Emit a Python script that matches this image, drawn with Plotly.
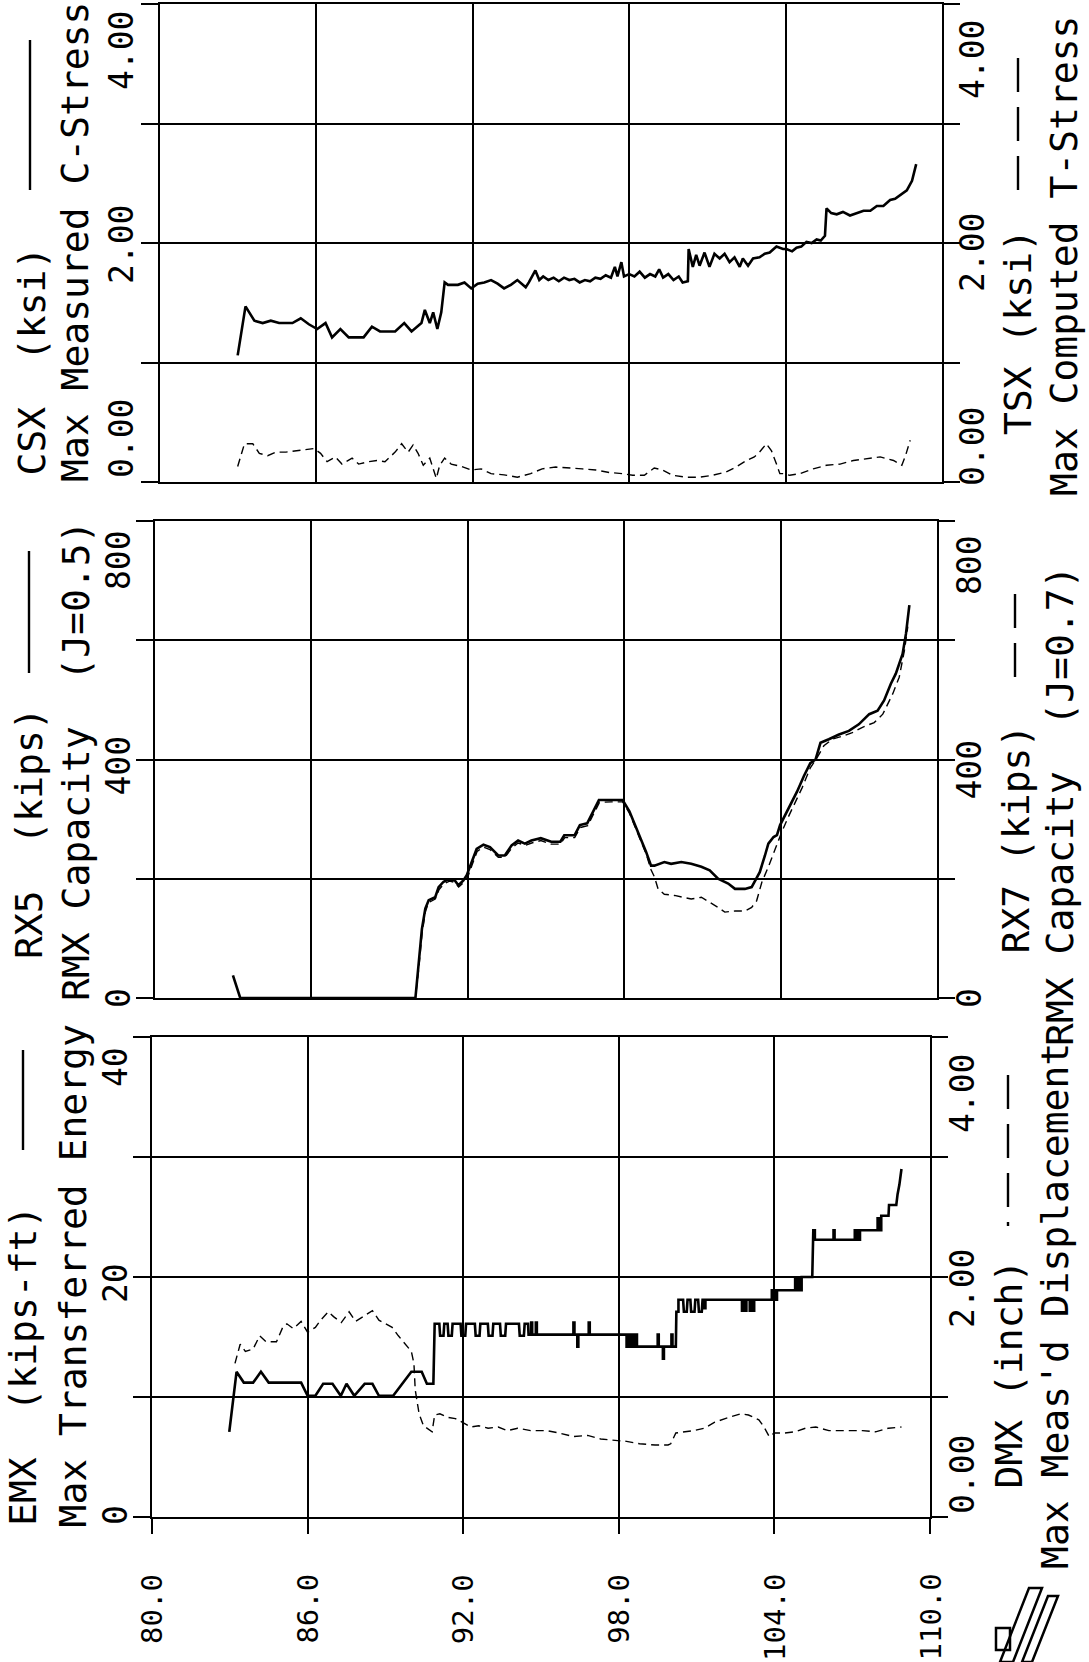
import plotly.graph_objects as go

W, H = 1089, 1662
FONT = "DejaVu Sans Mono"

# ---------------- shared depth axis ----------------
depth_ticks = [80, 86, 92, 98, 104, 110]
depth_tick_text = ["80.0", "86.0", "92.0", "98.0", "104.0", "110.0"]

# ---------------- top panel: compression / tension stress ----------------
csx_run1_depth = [82.98, 83.28, 83.62, 83.94, 84.25, 84.57, 85.08, 85.40, 85.71, 86.03,
                  86.35, 86.60, 86.92, 87.24, 87.81, 88.13, 88.44, 89.02, 89.37, 89.65,
                  90.03, 90.16, 90.35, 90.48, 90.64, 90.79, 90.92, 91.05, 91.43, 91.68,
                  91.94, 92.19, 92.44, 92.70, 92.95, 93.20, 93.46, 93.71, 94.03]
csx_run1_ksi = [1.06, 1.47, 1.35, 1.33, 1.35, 1.33, 1.33, 1.37, 1.32, 1.28,
                1.33, 1.21, 1.28, 1.21, 1.21, 1.30, 1.26, 1.26, 1.33, 1.26,
                1.33, 1.44, 1.33, 1.42, 1.28, 1.42, 1.67, 1.65, 1.65, 1.67,
                1.62, 1.66, 1.67, 1.69, 1.66, 1.62, 1.65, 1.69, 1.63]

csx_run2_depth = [94.15, 94.40, 94.55, 94.70, 94.90, 95.10, 95.30, 95.50, 95.70, 95.90,
                  96.10, 96.30, 96.50, 96.70, 96.90, 97.10, 97.30, 97.45, 97.55, 97.70,
                  97.80, 98.00, 98.20, 98.40, 98.60, 98.80, 99.00, 99.15, 99.30, 99.50,
                  99.70, 99.90, 100.05, 100.25]
csx_run2_ksi = [1.67, 1.77, 1.69, 1.72, 1.69, 1.71, 1.68, 1.71, 1.69, 1.70,
                1.67, 1.69, 1.68, 1.71, 1.70, 1.73, 1.71, 1.80, 1.72, 1.84,
                1.72, 1.74, 1.72, 1.76, 1.71, 1.74, 1.72, 1.78, 1.71, 1.74,
                1.69, 1.72, 1.67, 1.68]

csx_run3_depth = [100.28, 100.44, 100.57, 100.70, 100.89, 101.08, 101.27, 101.47, 101.66, 101.85,
                  102.04, 102.24, 102.36, 102.56, 102.75, 103.00, 103.20, 103.39, 103.65, 103.90]
csx_run3_ksi = [1.95, 1.80, 1.90, 1.81, 1.92, 1.80, 1.91, 1.87, 1.91, 1.84,
                1.88, 1.80, 1.87, 1.81, 1.87, 1.88, 1.91, 1.92, 1.97, 1.95]

csx_run4_depth = [104.03, 104.25, 104.42, 104.60, 104.80, 105.00, 105.19, 105.35, 105.51, 105.57,
                  105.75, 105.96, 106.20, 106.47, 106.70, 106.99, 107.25, 107.50, 107.75, 108.01,
                  108.20, 108.40, 108.65, 108.85, 109.01]
csx_run4_ksi = [1.95, 1.93, 1.96, 1.97, 2.01, 2.00, 2.03, 2.02, 2.06, 2.29,
                2.25, 2.24, 2.26, 2.23, 2.25, 2.27, 2.27, 2.31, 2.31, 2.36,
                2.37, 2.40, 2.44, 2.52, 2.66]

csx_depth = csx_run1_depth + csx_run2_depth + csx_run3_depth + csx_run4_depth
csx_ksi = csx_run1_ksi + csx_run2_ksi + csx_run3_ksi + csx_run4_ksi
assert len(csx_depth) == len(csx_ksi)

tsx_depth = [82.98, 83.24, 83.56, 83.81, 84.13, 84.44, 84.83, 85.52, 85.90, 86.16,
             86.41, 86.73, 86.98, 87.37, 87.62, 88.00, 88.32, 88.63, 89.02, 89.27,
             89.52, 89.71, 89.90, 90.10, 90.35, 90.60, 90.73, 90.92, 91.17, 91.56,
             91.94, 92.32, 92.70, 93.20, 93.71, 94.22, 94.66, 95.18, 95.69, 96.20,
             96.72, 97.23, 97.74, 98.13, 98.58, 98.96, 99.28, 99.67, 100.18, 100.70,
             101.20, 101.72, 102.10, 102.50, 102.80, 103.00, 103.26, 103.46, 103.65, 103.78,
             103.90, 104.16, 104.55, 105.06, 105.57, 106.09, 106.60, 107.11, 107.63, 108.14,
             108.46, 108.60, 108.78]
tsx_ksi = [0.13, 0.32, 0.32, 0.24, 0.22, 0.25, 0.25, 0.27, 0.28, 0.24,
           0.17, 0.21, 0.15, 0.20, 0.15, 0.17, 0.18, 0.17, 0.25, 0.32,
           0.25, 0.31, 0.24, 0.14, 0.20, 0.03, 0.14, 0.20, 0.15, 0.13,
           0.10, 0.11, 0.07, 0.06, 0.04, 0.07, 0.11, 0.125, 0.12, 0.11,
           0.10, 0.08, 0.07, 0.056, 0.056, 0.117, 0.10, 0.056, 0.04, 0.04,
           0.056, 0.084, 0.125, 0.18, 0.21, 0.25, 0.32, 0.26, 0.15, 0.07,
           0.07, 0.056, 0.07, 0.11, 0.14, 0.15, 0.18, 0.195, 0.21, 0.18,
           0.14, 0.22, 0.35]

# ---------------- middle panel: RMX capacity ----------------
rx5_depth = [82.99, 83.27, 89.99, 90.11, 90.24, 90.37, 90.50, 90.75, 90.88, 91.07,
             91.26, 91.50, 91.64, 91.83, 91.96, 92.15, 92.34, 92.60, 92.85, 93.17,
             93.42, 93.68, 93.93, 94.19, 94.44, 94.80, 95.20, 95.55, 95.70, 96.10,
             96.30, 96.58, 96.84, 97.03, 97.50, 97.94, 98.20, 98.50, 98.84, 99.03,
             99.16, 99.54, 99.80, 100.19, 100.57, 100.96, 101.28, 101.60, 101.99, 102.25,
             102.63, 102.89, 103.00, 103.20, 103.40, 103.53, 103.73, 103.86, 103.98, 104.18,
             104.43, 104.63, 104.89, 105.14, 105.34, 105.53, 105.85, 106.24, 106.62, 107.00,
             107.40, 107.72, 107.97, 108.23, 108.42, 108.68, 108.81, 108.94]
rx5_kips = [38, 0, 0, 55, 116, 150, 164, 169, 186, 195,
            199, 197, 189, 197, 206, 228, 250, 257, 253, 239,
            239, 256, 264, 259, 264, 268, 262, 262, 273, 273,
            290, 293, 315, 332, 332, 332, 313, 282, 245, 222,
            222, 228, 225, 228, 225, 220, 214, 200, 192, 183,
            183, 186, 194, 211, 239, 259, 270, 273, 290, 307,
            327, 346, 372, 394, 400, 428, 434, 442, 448, 459,
            476, 482, 499, 527, 544, 577, 611, 659]

rx7_depth = [83.27, 89.99, 90.12, 90.25, 90.38, 90.50, 90.75, 90.90, 91.10, 91.30,
             91.50, 91.65, 91.85, 92.00, 92.17, 92.36, 92.60, 92.85, 93.17, 93.42,
             93.70, 93.93, 94.20, 94.45, 94.80, 95.20, 95.55, 95.72, 96.10, 96.32,
             96.60, 96.86, 97.05, 97.50, 97.94, 98.20, 98.50, 98.84, 99.03, 99.16,
             99.30, 99.54, 99.93, 100.25, 100.57, 100.96, 101.28, 101.60, 101.86, 102.25,
             102.63, 102.89, 103.08, 103.28, 103.53, 103.80, 104.05, 104.30, 104.56, 104.82,
             105.14, 105.40, 105.66, 105.98, 106.37, 106.75, 107.14, 107.59, 107.92, 108.30,
             108.55, 108.75, 108.88]
rx7_kips = [0, 0, 50, 110, 146, 160, 166, 182, 192, 196,
            194, 186, 194, 203, 224, 246, 253, 249, 236, 236,
            252, 260, 256, 260, 264, 258, 258, 269, 269, 286,
            289, 311, 328, 329, 329, 310, 279, 242, 215, 203,
            183, 174, 172, 169, 166, 169, 161, 152, 144, 146,
            146, 152, 163, 194, 220, 251, 279, 304, 327, 352,
            386, 403, 423, 434, 439, 445, 454, 462, 476, 510,
            538, 583, 623]

# ---------------- bottom panel: transferred energy / displacement ----------------
# EMX is a stepped trace; it is kept as consecutive runs, each a depth list and a
# kips-ft list of the same length.
emx_run1_depth = [82.98, 83.26, 83.54, 83.90, 84.20, 84.50, 85.75, 86.00, 86.30, 86.60,
                  86.96, 87.28, 87.50, 87.80, 88.20, 88.50, 88.75, 89.30, 90.00, 90.40,
                  90.60, 90.85]
emx_run1_kft = [7.1, 12.1, 11.2, 11.2, 12.1, 11.2, 11.2, 10.1, 10.1, 11.1,
                11.1, 10.1, 11.1, 10.1, 11.1, 11.1, 10.1, 10.1, 12.1, 12.1,
                11.1, 11.1]

emx_run2_depth = [90.90,
                  91.08, 91.11, 91.24, 91.27,
                  91.40, 91.43, 91.56, 91.59,
                  91.90, 91.93, 92.08, 92.11,
                  92.45, 92.48, 92.63, 92.66,
                  92.95, 92.98, 93.13, 93.16,
                  93.42, 93.45, 93.62, 93.65,
                  94.15, 94.18, 94.34, 94.37,
                  94.50, 94.52]
emx_run2_kft = [16.1,
                16.1, 15.1, 15.1, 16.1,
                16.1, 15.1, 15.1, 16.1,
                16.1, 15.1, 15.1, 16.1,
                16.1, 15.1, 15.1, 16.1,
                16.1, 15.1, 15.1, 16.1,
                16.1, 15.1, 15.1, 16.1,
                16.1, 15.1, 15.1, 16.1,
                16.1, 15.2]

emx_run3_depth = [94.62, 94.62, 94.66, 94.66,
                  94.80, 94.80, 94.84, 94.84,
                  96.25, 96.25, 96.29, 96.29,
                  96.40, 96.40, 96.44, 96.44,
                  96.84, 96.84, 96.88, 96.88,
                  98.30, 98.30, 98.40, 98.40,
                  98.50, 98.50, 98.60, 98.60,
                  98.70, 98.70]
emx_run3_kft = [15.2, 16.2, 16.2, 15.2,
                15.2, 16.2, 16.2, 15.2,
                15.2, 16.2, 16.2, 15.2,
                15.2, 14.2, 14.2, 15.2,
                15.2, 16.2, 16.2, 15.2,
                15.2, 14.2, 14.2, 15.2,
                15.2, 14.2, 14.2, 15.2,
                15.2, 14.2]

emx_run4_depth = [99.50, 99.50, 99.54, 99.54,
                  99.70, 99.70, 99.74, 99.74,
                  100.03, 100.03, 100.07, 100.07,
                  100.20, 100.22, 100.30, 100.30,
                  100.48, 100.51, 100.62, 100.65,
                  100.76, 100.79, 100.92, 100.95,
                  101.06, 101.09, 101.20, 101.23,
                  101.30, 101.30, 101.34, 101.34]
emx_run4_kft = [14.2, 15.2, 15.2, 14.2,
                14.2, 13.2, 13.2, 14.2,
                14.2, 15.2, 15.2, 14.2,
                14.2, 17.1, 17.1, 18.1,
                18.1, 17.1, 17.1, 18.1,
                18.1, 17.1, 17.1, 18.1,
                18.1, 17.1, 17.1, 18.1,
                18.1, 17.4, 17.4, 18.1]

emx_run5_depth = [102.75, 102.75, 102.80, 102.80,
                  102.86, 102.86, 102.92, 102.92,
                  103.05, 103.05, 103.10, 103.10,
                  103.16, 103.16, 103.22, 103.22,
                  103.90, 103.90, 103.95, 103.95,
                  104.00, 104.00, 104.05, 104.05,
                  104.10, 104.10]
emx_run5_kft = [18.1, 17.2, 17.2, 18.1,
                18.1, 17.2, 17.2, 18.1,
                18.1, 17.2, 17.2, 18.1,
                18.1, 17.2, 17.2, 18.1,
                18.1, 18.9, 18.9, 18.1,
                18.1, 18.9, 18.9, 18.1,
                18.1, 18.9]

emx_run6_depth = [104.80, 104.80, 104.85, 104.85,
                  104.92, 104.92, 105.00, 105.00,
                  105.05, 105.05, 105.46, 105.50,
                  105.56, 105.56, 106.28, 106.28,
                  106.32, 106.32, 107.10, 107.10,
                  107.15, 107.15, 107.20, 107.20,
                  107.25, 107.25, 107.30, 107.30,
                  107.98, 107.98, 108.02, 108.02,
                  108.12, 108.12, 108.40, 108.42,
                  108.70, 108.75, 108.82, 108.90]
emx_run6_kft = [18.9, 19.9, 19.9, 18.9,
                18.9, 19.9, 19.9, 18.9,
                18.9, 20.0, 20.0, 23.9,
                23.9, 23.1, 23.1, 23.9,
                23.9, 23.1, 23.1, 23.9,
                23.9, 23.1, 23.1, 23.9,
                23.9, 23.1, 23.1, 23.9,
                23.9, 24.9, 24.9, 23.9,
                23.9, 25.1, 25.1, 26.0,
                26.0, 26.9, 27.7, 29.0]

emx_depth = (emx_run1_depth + emx_run2_depth + emx_run3_depth
             + emx_run4_depth + emx_run5_depth + emx_run6_depth)
emx_kft = (emx_run1_kft + emx_run2_kft + emx_run3_kft
           + emx_run4_kft + emx_run5_kft + emx_run6_kft)
assert len(emx_depth) == len(emx_kft)

dmx_depth = [83.20, 83.40, 83.60, 83.90, 84.15, 84.40, 84.80, 85.04, 85.20, 85.45,
             85.75, 86.00, 86.30, 86.50, 86.80, 87.00, 87.30, 87.60, 87.85, 88.20,
             88.50, 88.75, 89.00, 89.26, 89.50, 89.77, 90.00, 90.10, 90.15, 90.30,
             90.47, 90.80, 90.90, 91.10, 91.40, 91.70, 92.07, 92.30, 92.60, 92.96,
             93.35, 93.70, 94.10, 94.60, 95.20, 95.70, 96.25, 96.80, 97.30, 97.80,
             98.30, 98.80, 99.40, 99.90, 100.00, 100.20, 100.50, 100.90, 101.30, 101.70,
             102.10, 102.50, 102.70, 103.00, 103.40, 103.60, 103.80, 104.00, 104.40, 104.80,
             105.20, 105.60, 106.10, 106.75, 107.40, 107.90, 108.40, 108.90]
dmx_inch = [1.28, 1.44, 1.38, 1.40, 1.51, 1.46, 1.46, 1.58, 1.61, 1.57,
            1.63, 1.54, 1.58, 1.64, 1.71, 1.67, 1.62, 1.71, 1.63, 1.68,
            1.72, 1.64, 1.61, 1.58, 1.51, 1.44, 1.38, 1.28, 1.06, 0.86,
            0.76, 0.71, 0.85, 0.86, 0.83, 0.82, 0.78, 0.75, 0.76, 0.74,
            0.75, 0.72, 0.74, 0.72, 0.72, 0.70, 0.67, 0.68, 0.65, 0.64,
            0.63, 0.61, 0.60, 0.60, 0.61, 0.70, 0.71, 0.72, 0.74, 0.79,
            0.82, 0.85, 0.86, 0.85, 0.81, 0.75, 0.67, 0.70, 0.70, 0.71,
            0.74, 0.75, 0.72, 0.72, 0.72, 0.71, 0.74, 0.75]

# ---------------- page geometry (pixels) ----------------
panels = {
    "top": dict(x0=160, x1=942, y0=4, y1=482),
    "mid": dict(x0=155, x1=937, y0=521, y1=998),
    "bot": dict(x0=152, x1=930, y0=1037, y1=1517),
}


def xdom(p):
    return [p["x0"] / W, p["x1"] / W]


def ydom(p):
    return [1 - p["y1"] / H, 1 - p["y0"] / H]


def px(x):
    return x / W


def py(y):
    return 1 - y / H


GRID_W = 1.6
frame = dict(showline=True, linecolor="black", linewidth=GRID_W, mirror=True,
             zeroline=False, showgrid=True, gridcolor="black", gridwidth=GRID_W,
             showticklabels=False, fixedrange=True)

layout_axes = {}
panel_cfg = [
    ("top", "x", "y", "y2", [0, 4], [0, 1, 2, 3, 4], [0, 4], [0, 1, 2, 3, 4]),
    ("mid", "x2", "y3", "y4", [0, 800], [0, 200, 400, 600, 800], [0, 800], [0, 200, 400, 600, 800]),
    ("bot", "x3", "y5", "y6", [0, 40], [0, 10, 20, 30, 40], [0, 4], [0, 1, 2, 3, 4]),
]
for key, xa, yl, yr, lrange, lticks, rrange, rticks in panel_cfg:
    p = panels[key]
    xname = "xaxis" + xa[1:]
    ylname = "yaxis" + yl[1:]
    yrname = "yaxis" + yr[1:]
    layout_axes[xname] = dict(frame, domain=xdom(p), range=[80, 110], anchor=yl,
                              tickmode="array", tickvals=depth_ticks,
                              ticks="outside" if key == "bot" else "",
                              ticklen=15, tickwidth=GRID_W, tickcolor="black")
    layout_axes[ylname] = dict(frame, domain=ydom(p), range=lrange, anchor=xa,
                               tickmode="array", tickvals=lticks, ticks="outside",
                               ticklen=17, tickwidth=GRID_W, tickcolor="black")
    layout_axes[yrname] = dict(range=rrange, overlaying=yl, side="right", anchor=xa,
                               tickmode="array", tickvals=rticks, ticks="outside",
                               ticklen=17, tickwidth=GRID_W, tickcolor="black",
                               showgrid=False, zeroline=False, showline=False,
                               showticklabels=False, fixedrange=True)

fig = go.Figure()


def add_series(x, y, xa, ya, solid):
    fig.add_trace(go.Scatter(
        x=x, y=y, xaxis=xa, yaxis=ya, mode="lines", showlegend=False, hoverinfo="skip",
        line=dict(color="black", width=2.6 if solid else 1.4,
                  dash="solid" if solid else "8px,5px")))


add_series(csx_depth, csx_ksi, "x", "y", True)
add_series(tsx_depth, tsx_ksi, "x", "y2", False)
add_series(rx5_depth, rx5_kips, "x2", "y3", True)
add_series(rx7_depth, rx7_kips, "x2", "y4", False)
add_series(emx_depth, emx_kft, "x3", "y5", True)
add_series(dmx_depth, dmx_inch, "x3", "y6", False)

annotations = []
NB = "\u00a0"


def rot(text, xpix, ypix, size, yanchor="bottom"):
    annotations.append(dict(text=text, x=px(xpix), y=py(ypix), xref="paper", yref="paper",
                            xanchor="center", yanchor=yanchor, textangle=-90,
                            showarrow=False, borderpad=0,
                            font=dict(family=FONT, size=size, color="black")))


def tick_label(text, xpix, yref, yval, shift, size=33):
    annotations.append(dict(text=text, x=px(xpix), y=yval, xref="paper", yref=yref,
                            xanchor="center", yanchor="middle", yshift=shift, textangle=-90,
                            showarrow=False, borderpad=0,
                            font=dict(family=FONT, size=size, color="black")))


# value labels, left and right of each panel
tick_label("4.00", 122, "y", 4, -47)
tick_label("2.00", 122, "y", 2, -2)
tick_label("0.00", 122, "y", 0, 43)
tick_label("800", 118, "y3", 800, -39)
tick_label("400", 118, "y3", 400, -6)
tick_label("0", 118, "y3", 0, 0)
tick_label("40", 115, "y5", 40, -30)
tick_label("20", 115, "y5", 20, -6)
tick_label("0", 115, "y5", 0, 2)

tick_label("4.00", 973, "y2", 4, -56)
tick_label("2.00", 973, "y2", 2, -10)
tick_label("0.00", 973, "y2", 0, 35)
tick_label("800", 969, "y4", 800, -44)
tick_label("400", 969, "y4", 400, -10)
tick_label("0", 969, "y4", 0, 0)
tick_label("4.00", 962, "y6", 4, -57)
tick_label("2.00", 962, "y6", 2, -12)
tick_label("0.00", 962, "y6", 0, 42)

# axis titles
TS = 38
SP = NB + NB
rot("CSX" + SP + "(ksi)", 31, 477, TS)
rot("Max Measured C-Stress", 75, 483, TS)
rot("RX5" + SP + "(kips)", 29, 960, TS)
rot("RMX Capacity" + SP + "(J=0.5)", 76, 1002, TS)
rot("EMX" + SP + "(kips-ft)", 23, 1527, TS)
rot("Max Transferred Energy", 72, 1529, TS)

rot("TSX (ksi)", 1018, 436, TS)
rot("Max Computed T-Stress", 1064, 497, TS)
rot("RX7 (kips)", 1015, 955, TS)
rot("RMX Capacity" + SP + "(J=0.7)", 1060, 1047, TS)
rot("DMX (inch)", 1008, 1490, TS)
rot("Max Meas'd Displacement", 1055, 1570, TS)

# depth labels under the bottom panel
for d, t in zip(depth_ticks, depth_tick_text):
    annotations.append(dict(text=t, x=d, y=py(1573), xref="x3", yref="paper",
                            xanchor="center", yanchor="top", textangle=-90,
                            showarrow=False, borderpad=0,
                            font=dict(family=FONT, size=29, color="black")))

# legend key strokes next to the titles
shapes = []
for xpix, ya, yb in [(30, 40, 190), (29, 551, 673), (23, 1050, 1150)]:
    shapes.append(dict(type="line", xref="paper", yref="paper",
                       x0=px(xpix), x1=px(xpix), y0=py(ya), y1=py(yb),
                       line=dict(color="black", width=2.4)))
for xpix, ya, yb in [(1018, 58, 205), (1015, 594, 690), (1008, 1075, 1226)]:
    shapes.append(dict(type="line", xref="paper", yref="paper",
                       x0=px(xpix), x1=px(xpix), y0=py(ya), y1=py(yb),
                       line=dict(color="black", width=2.4, dash="34px,15px")))

# small maker's mark in the lower right corner
def poly(pts):
    d = "M " + " L ".join(f"{px(a):.5f},{py(b):.5f}" for a, b in pts) + " Z"
    return dict(type="path", xref="paper", yref="paper", path=d,
                line=dict(color="black", width=2.5))

shapes.append(poly([(1000, 1662), (1013, 1662), (1042, 1588), (1029, 1588)]))
shapes.append(poly([(1022, 1662), (1032, 1662), (1058, 1596), (1048, 1596)]))
shapes.append(poly([(996, 1628), (1010, 1628), (1010, 1650), (996, 1650)]))

fig.update_layout(
    width=W, height=H, autosize=False,
    margin=dict(l=0, r=0, t=0, b=0, pad=0),
    paper_bgcolor="white", plot_bgcolor="white",
    showlegend=False,
    annotations=annotations, shapes=shapes,
    **layout_axes,
)

fig.write_html("out.html", config={"displayModeBar": False})
